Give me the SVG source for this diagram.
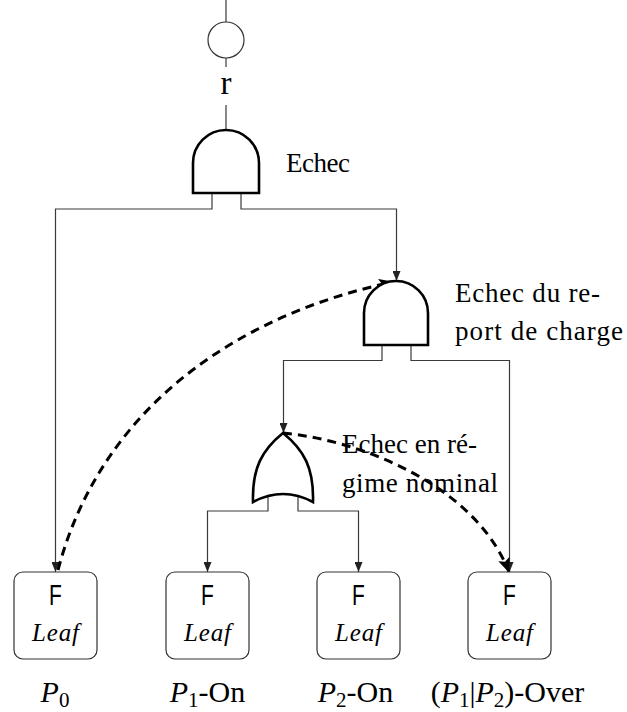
<svg xmlns="http://www.w3.org/2000/svg" width="627" height="712" viewBox="0 0 627 712">
<style>
.bg{fill:#fff}
.thin{fill:none;stroke:#3a3a3a;stroke-width:1.2}
.gate{fill:#fff;stroke:#000;stroke-width:2.6;stroke-linejoin:miter}
.dash{fill:none;stroke:#000;stroke-width:3;stroke-dasharray:9 6}
.box{fill:#fff;stroke:#333;stroke-width:1.2}
.t{font-size:27px;fill:#000}
.lbl{font-size:30px;fill:#000}
.it{font-style:italic}
.sub{font-size:21px}
.F{font-size:30px;fill:#000}
.leaf{font-style:italic;font-size:25px;fill:#000}
</style>
<defs>
<marker id="arr" viewBox="0 0 10 8" refX="10" refY="4" markerWidth="10" markerHeight="8" markerUnits="userSpaceOnUse" orient="auto"><path d="M0,0 L10,4 L0,8 Z" fill="#222"/></marker>
<marker id="big" viewBox="0 0 15 12" refX="14" refY="6" markerWidth="15" markerHeight="12" markerUnits="userSpaceOnUse" orient="auto"><path d="M0,0 L15,6 L0,12 L3,6 Z" fill="#000"/></marker>
</defs>
<rect class="bg" x="0" y="0" width="627" height="712"/>

<g id="connectors">
<path class="thin" d="M226,0 V22"/>
<path class="thin" d="M226,58 V67"/>
<path class="thin" d="M226,105 V130"/>
<path class="thin" d="M212,193 V209 H55.5 V572" marker-end="url(#arr)"/>
<path class="thin" d="M241,193 V209 H396.5 V281" marker-end="url(#arr)"/>
<path class="thin" d="M382,345 V360.5 H283.5 V433" marker-end="url(#arr)"/>
<path class="thin" d="M411,345 V360.5 H509.5 V572" marker-end="url(#arr)"/>
<path class="thin" d="M268,497 V511 H207.5 V572" marker-end="url(#arr)"/>
<path class="thin" d="M298,497 V511 H358.5 V572" marker-end="url(#arr)"/>
<path class="dash" d="M58,570 C100,410 235,315 393,282" marker-end="url(#big)"/>
<path class="dash" d="M283,433 C360,440 475,485 509,572" marker-end="url(#big)"/>
</g>

<g font-family="Liberation Serif, DejaVu Serif, Times New Roman, serif">
<g id="root">
<circle cx="226" cy="40" r="18" fill="#fff" stroke="#333" stroke-width="1.2"/>
<text class="t" x="226" y="94" text-anchor="middle" font-family="Liberation Serif, DejaVu Serif, serif" style="font-size:33px">r</text>
</g>

<g id="and1">
<path class="gate" d="M193,193 V163 A33,33 0 0 1 259,163 V193 Z"/>
<text class="t" x="286" y="172" font-family="Liberation Serif, DejaVu Serif, serif" textLength="64" lengthAdjust="spacing">Echec</text>
</g>

<g id="and2">
<path class="gate" d="M364,345 V313 A32,32 0 0 1 428,313 V345 Z"/>
<text class="t" x="455" y="302" font-family="Liberation Serif, DejaVu Serif, serif" textLength="145" lengthAdjust="spacing">Echec du re-</text>
<text class="t" x="455" y="340" font-family="Liberation Serif, DejaVu Serif, serif" textLength="168" lengthAdjust="spacing">port de charge</text>
</g>

<g id="or1">
<path class="gate" d="M283,433 C262,450 252,468 253,502 Q283,486 313,502 C314,468 304,450 283,433 Z"/>
<text class="t" x="342" y="453" font-family="Liberation Serif, DejaVu Serif, serif" textLength="135" lengthAdjust="spacing">Echec en ré-</text>
<text class="t" x="342" y="492" font-family="Liberation Serif, DejaVu Serif, serif" textLength="156" lengthAdjust="spacing">gime nominal</text>
</g>

<g id="leaf1">
<rect class="box" x="14" y="572" width="83" height="87" rx="9"/>
<text class="F" font-family="Liberation Sans, Arial, sans-serif" transform="translate(55.5,605) scale(0.7,1)" text-anchor="middle">F</text>
<text class="leaf" font-family="Liberation Serif, DejaVu Serif, serif" x="55.5" y="641" text-anchor="middle" textLength="47" lengthAdjust="spacing">Leaf</text>
<text class="lbl" font-family="Liberation Serif, DejaVu Serif, serif" x="55" y="702" text-anchor="middle"><tspan class="it">P</tspan><tspan class="sub" dy="5">0</tspan></text>
</g>

<g id="leaf2">
<rect class="box" x="166" y="572" width="83" height="87" rx="9"/>
<text class="F" font-family="Liberation Sans, Arial, sans-serif" transform="translate(207.5,605) scale(0.7,1)" text-anchor="middle">F</text>
<text class="leaf" font-family="Liberation Serif, DejaVu Serif, serif" x="207.5" y="641" text-anchor="middle" textLength="47" lengthAdjust="spacing">Leaf</text>
<text class="lbl" font-family="Liberation Serif, DejaVu Serif, serif" x="207.5" y="702" text-anchor="middle"><tspan class="it">P</tspan><tspan class="sub" dy="5">1</tspan><tspan dy="-5">-On</tspan></text>
</g>

<g id="leaf3">
<rect class="box" x="317" y="572" width="83" height="87" rx="9"/>
<text class="F" font-family="Liberation Sans, Arial, sans-serif" transform="translate(358.5,605) scale(0.7,1)" text-anchor="middle">F</text>
<text class="leaf" font-family="Liberation Serif, DejaVu Serif, serif" x="358.5" y="641" text-anchor="middle" textLength="47" lengthAdjust="spacing">Leaf</text>
<text class="lbl" font-family="Liberation Serif, DejaVu Serif, serif" x="355.5" y="702" text-anchor="middle"><tspan class="it">P</tspan><tspan class="sub" dy="5">2</tspan><tspan dy="-5">-On</tspan></text>
</g>

<g id="leaf4">
<rect class="box" x="468" y="572" width="83" height="87" rx="9"/>
<text class="F" font-family="Liberation Sans, Arial, sans-serif" transform="translate(509.5,605) scale(0.7,1)" text-anchor="middle">F</text>
<text class="leaf" font-family="Liberation Serif, DejaVu Serif, serif" x="509.5" y="641" text-anchor="middle" textLength="47" lengthAdjust="spacing">Leaf</text>
<text class="lbl" font-family="Liberation Serif, DejaVu Serif, serif" x="507.5" y="702" text-anchor="middle">(<tspan class="it">P</tspan><tspan class="sub" dy="5">1</tspan><tspan dy="-5">|</tspan><tspan class="it">P</tspan><tspan class="sub" dy="5">2</tspan><tspan dy="-5">)-Over</tspan></text>
</g>
</g>
</svg>
